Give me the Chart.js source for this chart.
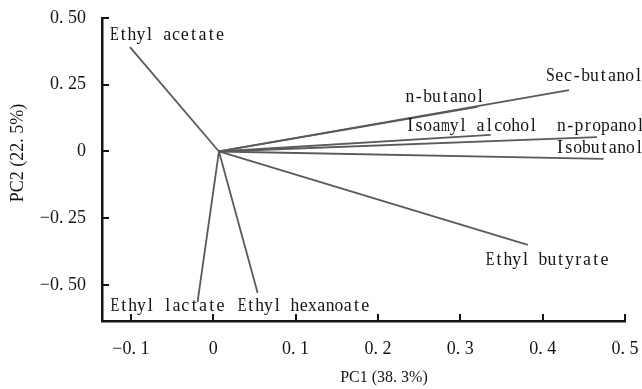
<!DOCTYPE html>
<html>
<head>
<meta charset="utf-8">
<title>PCA loading plot</title>
<script src="https://cdn.jsdelivr.net/npm/chart.js@4.4.1/dist/chart.umd.min.js"></script>
<style>
  html, body { margin: 0; padding: 0; background: #fff; }
  #wrap { width: 642px; height: 389px; position: relative; }
</style>
</head>
<body>
<div id="wrap"><canvas id="pcaChart"></canvas></div>
<script>
// loadings of each volatile on PC1 / PC2
const variables = ['Ethyl acetate', 'Sec-butanol', 'n-butanol', 'Isoamyl alcohol', 'n-propanol',
                   'Isobutanol', 'Ethyl butyrate', 'Ethyl lactate', 'Ethyl hexanoate'];
const pc1 = [-0.101, 0.432, 0.321, 0.337, 0.466, 0.474, 0.382, -0.019, 0.054];
const pc2 = [0.391, 0.230, 0.167, 0.062, 0.054, -0.028, -0.350, -0.564, -0.530];
const origin = [0.007, 0];

const xTicks = [-0.1, 0, 0.1, 0.2, 0.3, 0.4, 0.5];
const xTickLabels = ['\u22120. 1', '0', '0. 1', '0. 2', '0. 3', '0. 4', '0. 5'];
const yTicks = [-0.5, -0.25, 0, 0.25, 0.5];
const yTickLabels = ['\u22120. 50', '\u22120. 25', '0', '0. 25', '0. 50'];

// name placement: left edge / vertical middle, px from the tip of the line
const labelOffset = {
    'Ethyl acetate':   [-20, -12],
    'Sec-butanol':     [-23, -14],
    'n-butanol':       [-72, -10],
    'Isoamyl alcohol': [-85, -9],
    'n-propanol':      [-40, -11],
    'Isobutanol':      [-48, -11],
    'Ethyl butyrate':  [-42, 15],
    'Ethyl lactate':   [-87, 4],
    'Ethyl hexanoate': [-20, 13]
};

const SERIF = '"Liberation Serif", "DejaVu Serif", serif';
const INK = '#141414';

const datasets = variables.map((name, i) => ({
    label: name,
    data: [{ x: origin[0], y: origin[1] }, { x: pc1[i], y: pc2[i] }],
    showLine: true,
    borderColor: '#5a5a5a',
    borderWidth: 1.8,
    pointRadius: 0,
    pointHoverRadius: 0
}));

// draws a string one glyph per fixed-width cell (half-width CJK style);
// glyphs wider than the cell get squeezed into it
function drawCells(ctx, text, left, midY, cell) {
    for (let i = 0; i < text.length; i++) {
        const w = ctx.measureText(text[i]).width;
        const sx = w > cell ? cell / w : 1;
        ctx.save();
        ctx.translate(left + cell * (i + 0.5), midY);
        ctx.scale(sx, 1);
        ctx.fillText(text[i], 0, 0);
        ctx.restore();
    }
}

const biplotDecor = {
    id: 'biplotDecor',
    afterDraw(chart) {
        const { ctx, scales: { x, y } } = chart;
        ctx.save();

        // short inward tick marks
        ctx.strokeStyle = INK;
        ctx.lineWidth = 2;
        xTicks.forEach(v => {
            const px = Math.round(x.getPixelForValue(v));
            ctx.beginPath();
            ctx.moveTo(px, x.top);
            ctx.lineTo(px, x.top - 7);
            ctx.stroke();
        });
        yTicks.forEach(v => {
            const py = Math.round(y.getPixelForValue(v));
            ctx.beginPath();
            ctx.moveTo(y.right, py);
            ctx.lineTo(y.right + 7, py);
            ctx.stroke();
        });

        // variable names next to the line tips
        ctx.fillStyle = INK;
        ctx.font = '18px ' + SERIF;
        ctx.textAlign = 'center';
        ctx.textBaseline = 'middle';
        variables.forEach((name, i) => {
            const off = labelOffset[name];
            const tx = x.getPixelForValue(pc1[i]) + off[0];
            const ty = y.getPixelForValue(pc2[i]) + off[1];
            drawCells(ctx, name, tx, ty, 8.8);
        });

        // axis titles
        ctx.font = '16px ' + SERIF;
        ctx.fillText('PC1 (38. 3%)', 384, 378);

        ctx.font = '18px ' + SERIF;
        ctx.save();
        ctx.translate(18, 153);
        ctx.rotate(-Math.PI / 2);
        ctx.fillText('PC2 (22. 5%)', 0, 0);
        ctx.restore();

        ctx.restore();
    }
};

new Chart(document.getElementById('pcaChart'), {
    type: 'scatter',
    data: { datasets },
    options: {
        responsive: true,
        maintainAspectRatio: false,
        animation: false,
        layout: { padding: { top: 18, right: 17, left: 0, bottom: 0 } },
        plugins: {
            legend: { display: false },
            tooltip: { enabled: false }
        },
        scales: {
            x: {
                type: 'linear',
                min: -0.135,
                max: 0.5,
                afterBuildTicks: scale => { scale.ticks = xTicks.map(v => ({ value: v })); },
                afterFit: scale => {
                    scale.height = 68;
                    scale.paddingLeft = 0;
                    scale.paddingRight = 0;
                },
                grid: { display: false },
                border: { display: true, color: INK, width: 2.5 },
                ticks: {
                    padding: 9,
                    color: INK,
                    maxRotation: 0,
                    autoSkip: false,
                    font: { family: SERIF, size: 18 },
                    callback: (v, idx) => xTickLabels[idx]
                }
            },
            y: {
                type: 'linear',
                min: -0.635,
                max: 0.5,
                afterBuildTicks: scale => { scale.ticks = yTicks.map(v => ({ value: v })); },
                afterFit: scale => {
                    scale.width = 102;
                    scale.paddingTop = 0;
                    scale.paddingBottom = 0;
                },
                grid: { display: false },
                border: { display: true, color: INK, width: 2.5 },
                ticks: {
                    padding: 8,
                    color: INK,
                    autoSkip: false,
                    font: { family: SERIF, size: 18 },
                    callback: (v, idx) => yTickLabels[idx]
                }
            }
        }
    },
    plugins: [biplotDecor]
});
</script>
</body>
</html>
